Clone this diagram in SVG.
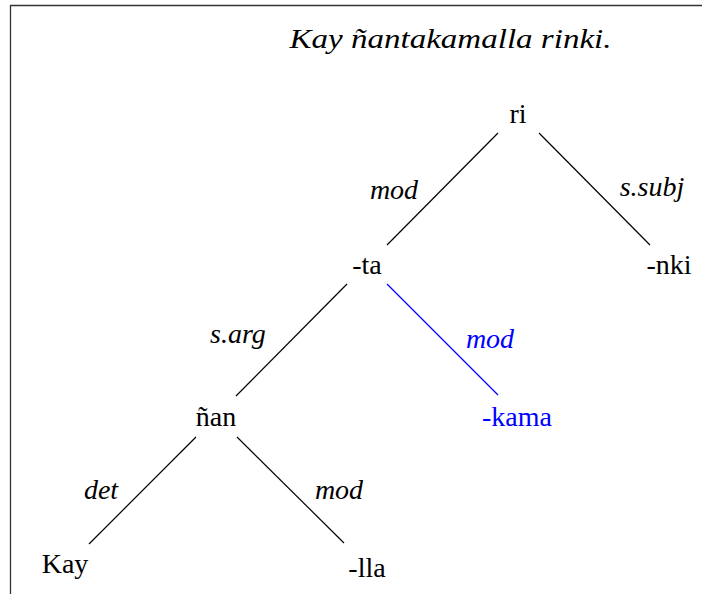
<svg xmlns="http://www.w3.org/2000/svg" width="702" height="594" viewBox="0 0 702 594">
<style>
text{font-family:"Liberation Serif","Times New Roman",serif;font-size:28px;fill:#000;text-anchor:middle}
.it{font-style:italic}
.blue{fill:#0000ff}
.edge{stroke:#000;stroke-width:1.2;fill:none}
.edge.b{stroke:#0000ff}
</style>
<rect width="702" height="594" fill="#fff"/>
<g id="frame"><path d="M10.5,594 V5.5 H702" fill="none" stroke="#333" stroke-width="1.3"/></g>
<text id="title" class="it" x="450.5" y="48" textLength="322" lengthAdjust="spacingAndGlyphs">Kay ñantakamalla rinki.</text>
<g id="connectors">
<line class="edge" x1="498" y1="133" x2="387" y2="245"/>
<text class="it" x="394" y="199">mod</text>
<line class="edge" x1="539" y1="133" x2="650" y2="245"/>
<text class="it" x="652" y="196">s.subj</text>
<line class="edge" x1="347" y1="284" x2="236" y2="396"/>
<text class="it" x="238" y="343">s.arg</text>
<line class="edge b" x1="387" y1="284" x2="498" y2="395"/>
<text class="it blue" x="490" y="348">mod</text>
<line class="edge" x1="196" y1="437" x2="89" y2="544"/>
<text class="it" x="101" y="499">det</text>
<line class="edge" x1="237" y1="437" x2="344" y2="543"/>
<text class="it" x="339" y="499">mod</text>
</g>
<g id="n-ri"><text x="518" y="123">ri</text></g>
<g id="n-ta"><text x="367" y="274">-ta</text></g>
<g id="n-nki"><text x="669" y="274">-nki</text></g>
<g id="n-nan"><text x="216" y="426">ñan</text></g>
<g id="n-kama"><text class="blue" x="517" y="426">-kama</text></g>
<g id="n-kay"><text x="65" y="573">Kay</text></g>
<g id="n-lla"><text x="367" y="577">-lla</text></g>
</svg>
